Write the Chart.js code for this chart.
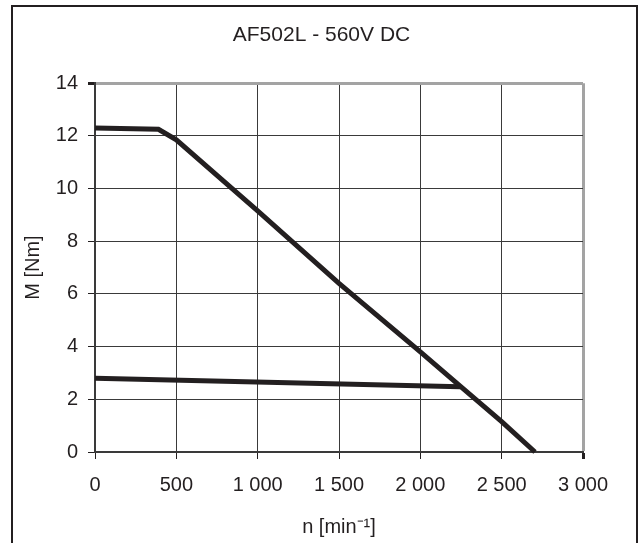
<!DOCTYPE html>
<html>
<head>
<meta charset="utf-8">
<script src="https://cdn.jsdelivr.net/npm/chart.js@4"></script>
<style>
  html, body { margin: 0; padding: 0; background: #fff; }
  #wrap { position: relative; width: 643px; height: 543px; overflow: hidden; }
  #frame { position: absolute; left: 11px; top: 5px; width: 623px; height: 560px; border: 2px solid #231f20; }
  #chart { position: absolute; left: 0; top: 0; }
</style>
</head>
<body>
<div id="wrap">
  <div id="frame"></div>
  <canvas id="chart" width="643" height="543"></canvas>
</div>
<script>
  // peak torque curve (M over n)
  var speedPeak = [0, 390, 500, 750, 1000, 1500, 2000, 2245, 2500, 2705];
  var torquePeak = [12.3, 12.25, 11.85, 10.5, 9.15, 6.4, 3.8, 2.5, 1.15, 0];
  // continuous torque line
  var speedCont = [0, 2245];
  var torqueCont = [2.8, 2.48];

  var xTicks = [0, 500, 1000, 1500, 2000, 2500, 3000];
  var yTicks = [0, 2, 4, 6, 8, 10, 12, 14];

  var ink = "#231f20";
  var edge = "#a3a3a3";
  var fontFamily = "'Liberation Sans', Arial, sans-serif";

  function points(xs, ys) {
    return xs.map(function (x, i) { return { x: x, y: ys[i] }; });
  }

  function thousands(v) {
    if (v < 1000) return String(v);
    return Math.floor(v / 1000) + " " + String(v % 1000).padStart(3, "0");
  }

  new Chart(document.getElementById("chart"), {
    type: "scatter",
    data: {
      datasets: [{
        data: points(speedPeak, torquePeak),
        showLine: true,
        borderColor: ink,
        borderWidth: 5,
        pointRadius: 0,
        tension: 0,
        clip: false
      }, {
        data: points(speedCont, torqueCont),
        showLine: true,
        borderColor: ink,
        borderWidth: 5,
        pointRadius: 0,
        tension: 0,
        clip: false
      }]
    },
    options: {
      responsive: false,
      animation: false,
      layout: { padding: 0 },
      plugins: {
        legend: { display: false },
        tooltip: { enabled: false },
        title: {
          display: true,
          text: "AF502L - 560V DC",
          color: ink,
          font: { family: fontFamily, size: 21, weight: "normal", lineHeight: 1.2 },
          padding: { top: 23, bottom: 35 }
        }
      },
      scales: {
        x: {
          type: "linear",
          min: 0,
          max: 3000,
          afterFit: function (scale) { scale.height = 91; },
          afterBuildTicks: function (scale) {
            scale.ticks = xTicks.map(function (v) { return { value: v }; });
          },
          ticks: {
            color: ink,
            padding: 14,
            maxRotation: 0,
            font: { family: fontFamily, size: 20 },
            callback: function (v) { return thousands(v); }
          },
          grid: {
            tickLength: 7,
            tickColor: ink,
            color: function (ctx) { return ctx.tick && ctx.tick.value === 3000 ? edge : "#3a3a3a"; },
            lineWidth: function (ctx) { return ctx.tick && ctx.tick.value === 3000 ? 3 : 1; }
          },
          border: { display: true, color: "#3a3a3a", width: 2 },
          title: {
            display: true,
            text: "n [min\u207B\u00B9]",
            color: ink,
            font: { family: fontFamily, size: 20, lineHeight: 1.2 },
            padding: { top: 0, bottom: 4 }
          }
        },
        y: {
          type: "linear",
          min: 0,
          max: 14,
          afterFit: function (scale) { scale.width = 95; },
          afterBuildTicks: function (scale) {
            scale.ticks = yTicks.map(function (v) { return { value: v }; });
          },
          ticks: {
            color: ink,
            padding: 10,
            font: { family: fontFamily, size: 20 }
          },
          grid: {
            tickLength: 7,
            tickColor: ink,
            color: function (ctx) { return ctx.tick && ctx.tick.value === 14 ? edge : "#3a3a3a"; },
            lineWidth: function (ctx) { return ctx.tick && ctx.tick.value === 14 ? 3 : 1; }
          },
          border: { display: true, color: "#3a3a3a", width: 2 },
          title: {
            display: true,
            text: "M [Nm]",
            color: ink,
            font: { family: fontFamily, size: 20, lineHeight: 1.2 },
            padding: { top: 21, bottom: 0 }
          }
        },
        // empty right-hand axis, only reserves the margin right of the plot
        spacer: {
          type: "linear",
          position: "right",
          min: 0,
          max: 14,
          afterFit: function (scale) { scale.width = 60; },
          ticks: { display: false },
          grid: { display: false, drawTicks: false },
          border: { display: false }
        }
      }
    }
  });
</script>
</body>
</html>
